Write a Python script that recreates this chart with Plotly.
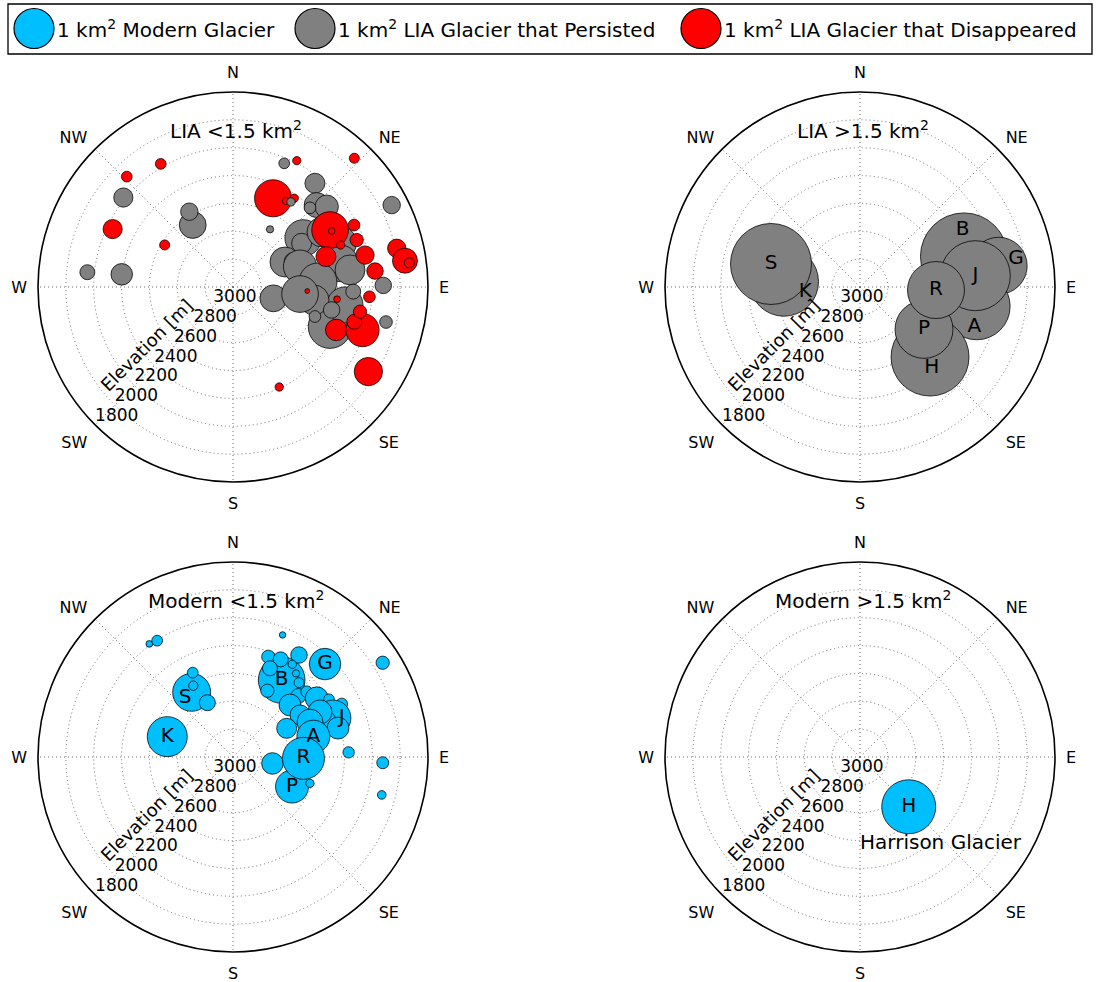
import plotly.graph_objects as go

# ---------------------------------------------------------------- data
# Elevation axis: the pole is 3200 m, the rim 1800 m.
POLE_ELEV = 3200
ring_elev = [3000, 2800, 2600, 2400, 2200, 2000, 1800]
compass_deg = [0, 45, 90, 135, 180, 225, 270, 315]
compass_txt = ["N", "NE", "E", "SE", "S", "SW", "W", "NW"]

# LIA glaciers smaller than 1.5 km2 (P = persisted, D = disappeared)
lia_small_elev = [2175, 2100, 2184, 2241, 2624, 2149, 2396, 2669, 2575, 2708,
                  2239, 2184, 1930, 1918, 2409, 2054,
                  2251, 2359, 2314, 2407, 2585, 2616, 2449, 2786, 2730, 2697,
                  2369, 2413, 2351, 2589, 2448, 2386, 2611, 2899, 2716, 2473,
                  2575, 2336, 2121, 2073,
                  2501, 2475, 2426, 2392, 2385, 2224, 2370, 2498, 2250, 2225,
                  2174, 1992, 1951, 1922, 2666, 2448, 2218, 2397, 2220, 2294,
                  2271, 2461]
lia_small_aspect = [329.6, 316.1, 309.2, 295.7, 301.6, 275.8, 276.5, 327.0, 329.9, 32.7,
                    22.5, 26.8, 43.3, 62.7, 155.2, 122.0,
                    38.3, 45.6, 49.4, 44.2, 55.1, 57.5, 58.3, 64.3, 67.2, 73.1,
                    67.6, 77.5, 81.7, 86.6, 112.3, 99.1, 99.1, 105.7, 96.0, 103.1,
                    109.8, 92.2, 89.4, 102.9,
                    24.3, 31.6, 34.6, 59.6, 60.4, 62.9, 68.7, 71.9, 69.2, 76.4,
                    83.6, 76.7, 81.3, 82.2, 93.1, 96.7, 94.1, 112.6, 108.4, 106.0,
                    101.0, 34.3]
lia_small_area = [0.072, 0.072, 0.23, 0.23, 0.063, 0.14, 0.29, 0.45, 0.19, 0.033,
                  0.072, 0.043, 0.063, 0.19, 0.043, 0.50,
                  0.25, 0.39, 0.34, 0.086, 0.84, 0.25, 0.56, 0.56, 0.21, 0.69,
                  0.68, 0.84, 0.56, 0.90, 1.17, 0.81, 0.56, 0.45, 0.84, 0.17,
                  0.086, 0.14, 0.17, 0.10,
                  0.86, 0.033, 0.043, 0.84, 0.028, 0.086, 0.043, 0.25, 0.11, 0.21,
                  0.17, 0.21, 0.39, 0.063, 0.014, 0.028, 0.086, 0.29, 0.69, 0.14,
                  0.11, 0.043]
lia_small_status = ["D", "D", "P", "D", "D", "P", "P", "P", "P", "P",
                    "P", "D", "D", "P", "D", "D",
                    "P", "P", "P", "P", "P", "P", "P", "P", "P", "P",
                    "P", "P", "P", "P", "P", "P", "P", "P", "P", "P",
                    "P", "P", "P", "P",
                    "D", "D", "D", "D", "D", "D", "D", "D", "D", "D",
                    "D", "D", "D", "D", "D", "D", "D", "D", "D", "D",
                    "D", "P"]

# LIA glaciers larger than 1.5 km2 (all persisted)
lia_large_name = ["K", "S", "B", "G", "A", "J", "H", "P", "R"]
lia_large_elev = [2653, 2540, 2422, 2193, 2351, 2368, 2489, 2649, 2654]
lia_large_aspect = [274.0, 284.5, 73.6, 81.3, 99.4, 84.4, 135.0, 123.5, 92.3]
lia_large_area = [2.98, 4.10, 4.73, 2.03, 2.80, 3.06, 3.80, 2.10, 2.03]
lia_large_lbl = ["S", "K", "B", "G", "J", "R", "A", "P", "H"]
lia_large_lbl_elev = [2540, 2805, 2356, 2062, 2368, 2654, 2330, 2649, 2423]
lia_large_lbl_aspect = [284.5, 264.4, 60.8, 79.8, 84.4, 92.3, 109.3, 123.5, 138.5]

# Modern glaciers smaller than 1.5 km2
mod_small_elev = [2190, 2203, 2254, 2649, 2529, 2614, 2769, 2706, 1930, 2369,
                  2124, 2098, 2261, 2546, 2437, 2420, 2328, 2410, 2510, 2448,
                  2486, 2664, 2558, 2493, 2466, 2396, 2332, 2430, 2481, 2497,
                  2418, 2646, 2632, 2593, 2605, 2763, 2913, 2726, 2694, 2616]
mod_small_aspect = [323.5, 326.9, 22.1, 327.4, 334.5, 330.9, 334.7, 287.2, 57.8, 87.7,
                    92.2, 104.3, 44.7, 32.3, 19.4, 26.0, 32.9, 32.6, 22.6, 37.0,
                    41.6, 27.4, 47.0, 48.5, 55.0, 59.0, 64.0, 68.7, 69.4, 62.6,
                    74.6, 47.6, 57.9, 65.6, 75.8, 61.9, 99.3, 116.6, 91.1, 108.9]
mod_small_area = [0.028, 0.072, 0.026, 0.90, 0.072, 0.054, 0.16, 1.00, 0.11, 0.08,
                  0.09, 0.047, 0.62, 1.36, 0.11, 0.14, 0.17, 0.043, 0.14, 0.033,
                  0.063, 0.11, 0.14, 0.086, 0.33, 0.072, 0.086, 0.81, 0.25, 0.36,
                  0.30, 0.30, 0.25, 0.42, 0.68, 0.25, 0.29, 0.68, 1.10, 0.043]
mod_small_lbl = ["G", "B", "S", "K", "J", "A", "R", "P"]
mod_small_lbl_elev = [2261, 2546, 2656, 2706, 2371, 2605, 2694, 2726]
mod_small_lbl_aspect = [44.7, 32.3, 320.7, 287.2, 70.4, 75.8, 91.1, 116.6]

# Modern glaciers larger than 1.5 km2
mod_large_elev = [2700]
mod_large_aspect = [135.6]
mod_large_area = [1.82]
mod_large_lbl = ["H", "Harrison Glacier"]
mod_large_lbl_elev = [2700, 2349]
mod_large_lbl_aspect = [135.6, 137.2]

legend_labels = ["1 km<sup>2</sup> Modern Glacier",
                 "1 km<sup>2</sup> LIA Glacier that Persisted",
                 "1 km<sup>2</sup> LIA Glacier that Disappeared"]
legend_area = [1, 1, 1]

# ---------------------------------------------------------------- style
W, H = 1100, 982
FONT = "DejaVu Sans"
BLUE, GREY, RED = "#00bfff", "#808080", "#ff0000"
EDGE = dict(color="rgba(0,0,0,0.85)", width=0.9)
SIZEREF = 1 / 800.0           # 1 km2 -> 40 px diameter
RADIUS_PX = 195
GRID = dict(gridcolor="#6f6f6f", griddash="1px,3px", gridwidth=1)
status_color = {"P": GREY, "D": RED}

panels = [
    dict(name="polar", cx=233, cy=287, title="LIA &lt;1.5 km<sup>2</sup>"),
    dict(name="polar2", cx=860, cy=287, title="LIA &gt;1.5 km<sup>2</sup>"),
    dict(name="polar3", cx=233, cy=757, title="Modern &lt;1.5 km<sup>2</sup>"),
    dict(name="polar4", cx=860, cy=757, title="Modern &gt;1.5 km<sup>2</sup>"),
]


def depth(elev):
    return [POLE_ELEV - e for e in elev]


fig = go.Figure()


def bubbles(elev, aspect, area, colors, subplot):
    fig.add_trace(go.Scatterpolar(
        r=depth(elev), theta=aspect, mode="markers", subplot=subplot,
        marker=dict(size=area, sizemode="area", sizeref=SIZEREF,
                    color=colors, line=EDGE, opacity=1),
        showlegend=False, hoverinfo="skip"))


def labels(text, elev, aspect, subplot):
    fig.add_trace(go.Scatterpolar(
        r=depth(elev), theta=aspect, mode="text", text=text, subplot=subplot,
        textfont=dict(family=FONT, size=20, color="black"),
        textposition="middle center", showlegend=False, hoverinfo="skip",
        cliponaxis=False))


bubbles(lia_small_elev, lia_small_aspect, lia_small_area,
        [status_color[s] for s in lia_small_status], "polar")
bubbles(lia_large_elev, lia_large_aspect, lia_large_area, GREY, "polar2")
labels(lia_large_lbl, lia_large_lbl_elev, lia_large_lbl_aspect, "polar2")
bubbles(mod_small_elev, mod_small_aspect, mod_small_area, BLUE, "polar3")
labels(mod_small_lbl, mod_small_lbl_elev, mod_small_lbl_aspect, "polar3")
bubbles(mod_large_elev, mod_large_aspect, mod_large_area, BLUE, "polar4")
labels(mod_large_lbl, mod_large_lbl_elev, mod_large_lbl_aspect, "polar4")

annotations = []
for p in panels:
    # elevation tick labels along the SW ray
    fig.add_trace(go.Scatterpolar(
        r=depth(ring_elev), theta=[225] * len(ring_elev), mode="text",
        text=[str(e) for e in ring_elev], textposition="top right",
        textfont=dict(family=FONT, size=17, color="black"),
        subplot=p["name"], showlegend=False, hoverinfo="skip", cliponaxis=False))

    dom = dict(x=[(p["cx"] - RADIUS_PX) / W, (p["cx"] + RADIUS_PX) / W],
               y=[1 - (p["cy"] + RADIUS_PX) / H, 1 - (p["cy"] - RADIUS_PX) / H])
    fig.layout[p["name"]] = dict(
        domain=dom, bgcolor="white",
        radialaxis=dict(range=[0, POLE_ELEV - ring_elev[-1]],
                        tickmode="array", tickvals=depth(ring_elev),
                        showticklabels=False, ticks="", showline=False, **GRID),
        angularaxis=dict(rotation=90, direction="clockwise",
                         tickmode="array", tickvals=compass_deg, ticktext=compass_txt,
                         tickfont=dict(family=FONT, size=16, color="black"),
                         ticks="outside", ticklen=7, tickcolor="rgba(0,0,0,0)",
                         showline=True, linecolor="black", linewidth=1.6, **GRID))

    annotations.append(dict(
        text=p["title"], x=(p["cx"] + 3) / W, y=1 - (p["cy"] - 157) / H,
        xref="paper", yref="paper", xanchor="center", yanchor="middle",
        showarrow=False, font=dict(family=FONT, size=20, color="black")))
    annotations.append(dict(
        text="Elevation [m]", x=(p["cx"] - 87) / W, y=1 - (p["cy"] + 58) / H,
        xref="paper", yref="paper", xanchor="center", yanchor="middle",
        showarrow=False, textangle=-45,
        font=dict(family=FONT, size=18, color="black")))

# ---------------------------------------------------------------- legend strip
legend_x = [34, 315, 701]
fig.add_trace(go.Scatter(
    x=legend_x, y=[28.5] * 3, mode="markers", xaxis="x", yaxis="y",
    marker=dict(size=legend_area, sizemode="area", sizeref=SIZEREF, opacity=1,
                color=[BLUE, GREY, RED], line=dict(color="black", width=1.2)),
    showlegend=False, hoverinfo="skip", cliponaxis=False))
for lx, txt in zip(legend_x, legend_labels):
    annotations.append(dict(
        text=txt, x=lx + 21, y=29, xref="x", yref="y", xanchor="left",
        yanchor="middle", showarrow=False,
        font=dict(family=FONT, size=20, color="black")))

fig.update_layout(
    width=W, height=H, template="none",
    margin=dict(l=0, r=0, t=0, b=0),
    paper_bgcolor="white", plot_bgcolor="white",
    xaxis=dict(domain=[0, 1], range=[0, W], visible=False, fixedrange=True),
    yaxis=dict(domain=[1 - 60 / H, 1], range=[60, 0], visible=False, fixedrange=True),
    shapes=[dict(type="rect", xref="x", yref="y", x0=8, x1=1092, y0=4, y1=54,
                 line=dict(color="black", width=1.3), layer="below")],
    annotations=annotations,
    font=dict(family=FONT),
)

fig.write_html("out.html")
